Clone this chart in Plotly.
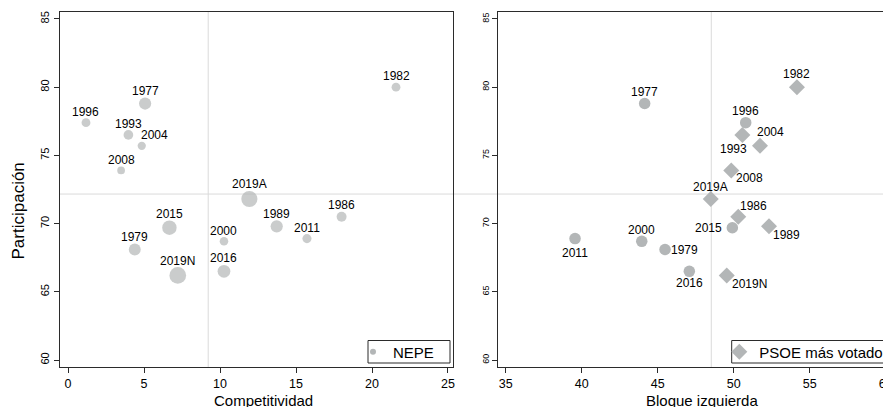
import numpy as np
import plotly.graph_objects as go

# ---------------- data ----------------
years = ["1977", "1979", "1982", "1986", "1989", "1993", "1996", "2000",
         "2004", "2008", "2011", "2015", "2016", "2019A", "2019N"]
participacion = [78.8, 68.1, 80.0, 70.5, 69.8, 76.5, 77.4, 68.7,
                 75.7, 73.9, 68.9, 69.7, 66.5, 71.8, 66.2]
competitividad = [5.07, 4.39, 21.58, 18.0, 13.73, 3.97, 1.18, 10.26,
                  4.85, 3.49, 15.72, 6.67, 10.26, 11.93, 7.22]
nepe = [4.4, 4.3, 3.2, 3.6, 4.4, 3.5, 3.2, 3.1,
        3.0, 2.8, 3.3, 5.2, 4.6, 5.8, 6.0]
bloque_izquierda = [44.14, 45.48, 54.16, 50.30, 52.32, 50.57, 50.79, 43.95,
                    51.73, 49.84, 39.56, 49.91, 47.08, 48.49, 49.54]
psoe_mas_votado = [0, 0, 1, 1, 1, 1, 0, 0, 1, 1, 0, 0, 0, 1, 1]

x1_ticks = [0, 5, 10, 15, 20, 25]
x2_ticks = [35, 40, 45, 50, 55, 60]
y_ticks = [60, 65, 70, 75, 80, 85]

# ---------------- style ----------------
OFF = 8                 # page body margin of the html page
W, H = 891 - OFF, 407 - OFF
GREY = "#b3b6b7"
REF = "#dadada"
AX = "#2b2b2b"
FONT = "Liberation Sans, Arial, Helvetica, sans-serif"


def px_x(p):
    return (p - OFF) / W


def px_y(p):
    return 1 - (p - OFF) / H


def nepe_diam(v):
    # marker diameter (px) as a function of NEPE weight
    return 7.7 + 2.81 * (v - 2.8)


left_sizes = [nepe_diam(v) for v in nepe]

# label offsets (dx, dy) in screen px relative to the marker
left_offsets = {"2004": (13, -11)}
right_offsets = {
    "1977": (0, -12), "1979": (19, 0), "1982": (0, -13.5), "1986": (15, -11),
    "1989": (18, 9), "1993": (-9, 14.5), "1996": (0, -11.5), "2000": (0, -11),
    "2004": (10, -14), "2008": (18.5, 7.5), "2011": (0, 14), "2015": (-24, 0),
    "2016": (0, 12), "2019A": (0, -12), "2019N": (23, 8.5),
}

fig = go.Figure()

# ---- left panel ----
fig.add_trace(go.Scatter(
    x=competitividad, y=participacion, mode="markers",
    marker=dict(size=left_sizes, color=GREY, line=dict(width=0)),
    showlegend=False, xaxis="x", yaxis="y", hoverinfo="skip"))
fig.add_trace(go.Scatter(
    x=[None], y=[None], mode="markers", name="NEPE",
    marker=dict(size=6, color=GREY, line=dict(width=0)),
    showlegend=True, legend="legend", xaxis="x", yaxis="y"))

# ---- right panel ----
circ = [i for i, p in enumerate(psoe_mas_votado) if p == 0]
diam = [i for i, p in enumerate(psoe_mas_votado) if p == 1]
fig.add_trace(go.Scatter(
    x=[bloque_izquierda[i] for i in circ], y=[participacion[i] for i in circ],
    mode="markers", marker=dict(size=11.5, color=GREY, symbol="circle", line=dict(width=0)),
    showlegend=False, xaxis="x2", yaxis="y2", hoverinfo="skip"))
fig.add_trace(go.Scatter(
    x=[bloque_izquierda[i] for i in diam], y=[participacion[i] for i in diam],
    mode="markers", marker=dict(size=12.3, color=GREY, symbol="diamond", line=dict(width=0)),
    name="PSOE más votado", showlegend=True, legend="legend2",
    xaxis="x2", yaxis="y2", hoverinfo="skip"))

annotations = []
for yr, xv, yv, d in zip(years, competitividad, participacion, left_sizes):
    dx, dy = left_offsets.get(yr, (0, -(d / 2 + 6.5)))
    annotations.append(dict(
        x=xv, y=yv, xref="x", yref="y", text=yr, showarrow=False,
        xanchor="center", yanchor="middle", xshift=dx, yshift=-dy,
        font=dict(size=12, color="black", family=FONT)))
for yr, xv, yv in zip(years, bloque_izquierda, participacion):
    dx, dy = right_offsets[yr]
    annotations.append(dict(
        x=xv, y=yv, xref="x2", yref="y2", text=yr, showarrow=False,
        xanchor="center", yanchor="middle", xshift=dx, yshift=-dy,
        font=dict(size=12, color="black", family=FONT)))

# axis titles
annotations.append(dict(x=px_x(17.5), y=px_y(211), xref="paper", yref="paper",
                        text="Participación", textangle=-90, showarrow=False,
                        xanchor="center", yanchor="middle",
                        font=dict(size=17, color="black", family=FONT)))
annotations.append(dict(x=px_x(263.7), y=px_y(400), xref="paper", yref="paper",
                        text="Competitividad", showarrow=False,
                        xanchor="center", yanchor="middle",
                        font=dict(size=15, color="black", family=FONT)))
annotations.append(dict(x=px_x(702), y=px_y(400), xref="paper", yref="paper",
                        text="Bloque izquierda", showarrow=False,
                        xanchor="center", yanchor="middle",
                        font=dict(size=15, color="black", family=FONT)))

mean_part = float(np.mean(participacion))
mean_comp = float(np.mean(competitividad))
mean_bloq = float(np.mean(bloque_izquierda))

shapes = [
    dict(type="line", xref="x", yref="y domain", x0=mean_comp, x1=mean_comp, y0=0, y1=1,
         line=dict(color=REF, width=1), layer="below"),
    dict(type="line", xref="x2", yref="y2 domain", x0=mean_bloq, x1=mean_bloq, y0=0, y1=1,
         line=dict(color=REF, width=1), layer="below"),
    dict(type="line", xref="paper", yref="y", x0=px_x(60), x1=1, y0=mean_part, y1=mean_part,
         line=dict(color=REF, width=1), layer="below"),
    # legend frames
    dict(type="rect", xref="paper", yref="paper", x0=px_x(368), x1=px_x(450),
         y0=px_y(363), y1=px_y(340.5), line=dict(color=AX, width=1),
         fillcolor="white", layer="above"),
    dict(type="rect", xref="paper", yref="paper", x0=px_x(731.7), x1=px_x(885.7),
         y0=px_y(363), y1=px_y(340.5), line=dict(color=AX, width=1),
         fillcolor="white", layer="above"),
]

axis_common = dict(showgrid=False, zeroline=False, showline=True, mirror=True,
                   linecolor=AX, linewidth=1.4, ticks="outside", ticklen=5,
                   tickwidth=1, tickcolor=AX, automargin=False,
                   ticklabeloverflow="allow")

legend_common = dict(xanchor="left", yanchor="middle", bgcolor="rgba(0,0,0,0)",
                     borderwidth=0, font=dict(size=15, color="black", family=FONT),
                     itemwidth=30, tracegroupgap=0)

fig.update_layout(
    width=W, height=H,
    margin=dict(l=0, r=0, t=0, b=0),
    paper_bgcolor="white", plot_bgcolor="white",
    font=dict(family=FONT, color="black"),
    xaxis=dict(domain=[px_x(60), px_x(453)], range=[-0.53, 25.33], tickvals=x1_ticks,
               tickfont=dict(size=12.5), anchor="y", **axis_common),
    yaxis=dict(domain=[px_y(367), px_y(12)], range=[59.49, 85.51], tickvals=y_ticks,
               tickangle=-90, tickfont=dict(size=11), anchor="x", **axis_common),
    xaxis2=dict(domain=[px_x(498.3), 1.0], range=[34.51, 60.35], tickvals=x2_ticks,
                tickfont=dict(size=12.5), anchor="y2", **axis_common),
    yaxis2=dict(domain=[px_y(367), px_y(12)], range=[59.49, 85.51], tickvals=y_ticks,
                tickangle=-90, tickfont=dict(size=9), anchor="x2", **axis_common),
    legend=dict(x=px_x(353), y=px_y(352), **legend_common),
    legend2=dict(x=px_x(719.3), y=px_y(352), **legend_common),
    annotations=annotations,
    shapes=shapes,
)

fig.write_html("out.html")
